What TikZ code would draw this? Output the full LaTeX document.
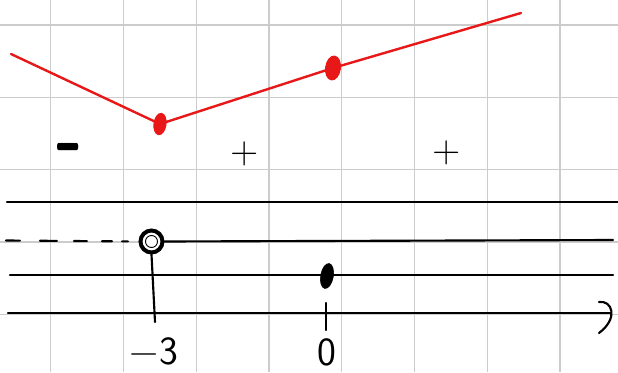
\documentclass[tikz,border=0pt]{standalone}
\usepackage{fontspec}
\usetikzlibrary{shapes.geometric}
\definecolor{myred}{RGB}{232,24,24}
\begin{document}
\begin{tikzpicture}[x=0.75pt,y=-0.75pt,
  gridline/.style={draw=black!20, line width=1pt},
  axisline/.style={draw=black, line width=1.6pt, line cap=round},
  redline/.style={draw=myred, line width=1.8pt, line cap=round, line join=round},
  reddot/.style={ellipse, fill=myred, draw=myred, line width=0.8pt, inner sep=0pt},
  blackdot/.style={ellipse, fill=black, draw=black, inner sep=0pt},
  opendot/.style={circle, draw=black, line width=3pt, fill=white, inner sep=0pt, minimum size=16.5pt},
  sign/.style={font=\sffamily\fontsize{29}{29}\selectfont, inner sep=0pt},
  lab/.style={font=\sffamily\fontsize{30}{30}\selectfont, inner sep=0pt}]
\useasboundingbox (0,0) rectangle (618,372);
\clip (0,0) rectangle (618,372);
\fill[white] (0,0) rectangle (618,372);
% grid
\foreach \i in {0,...,7} \draw[gridline] ({50.7+72.75*\i},0) -- ({50.7+72.75*\i},372);
\foreach \j in {0,...,4} \draw[gridline] (0,{25+72.3*\j}) -- (618,{25+72.3*\j});
% black lines
\coordinate (l1s) at (7,202);   \coordinate (l1e) at (618,202);
\coordinate (l2s) at (6,240.5); \coordinate (l2e) at (613,240);
\coordinate (l3s) at (10,275);  \coordinate (l3e) at (613,275);
\coordinate (axs) at (8,313);   \coordinate (axe) at (611,313);
\coordinate (arT) at (599,302); \coordinate (arB) at (599,333);
\coordinate (stemE) at (155,322);
\coordinate (tickT) at (326,303); \coordinate (tickB) at (326,330);
\draw[axisline] (l1s) -- (l1e);
\draw[axisline] (l3s) -- (l3e);
\draw[axisline] (axs) -- (axe);
\draw[axisline] (arT) .. controls (612,300) and (619,318) .. (arB);
\node[opendot] (circ) at (151.5,241.5) {};
\draw[axisline, dash pattern=on 10.5pt off 15pt on 12.75pt off 12.75pt on 9.75pt off 11.25pt on 7.5pt off 7.5pt on 4.5pt off 30pt] (l2s) -- (circ.west);
\draw[axisline] (circ.east) -- (l2e);
\draw[axisline] (circ.south) -- (stemE);
\draw[black, line width=0.7pt] (circ.center) circle (4.5pt);
\draw[axisline] (tickT) -- (tickB);
\node[blackdot, minimum width=9.5pt, minimum height=19pt, rotate=-10] (bdot) at (327,276) {};
% red graph
\coordinate (rs) at (11,54);
\coordinate (pmin) at (160,124);
\coordinate (pmid) at (333,68);
\coordinate (re) at (521,13);
\draw[redline] (rs) -- (pmin) -- (pmid) -- (re);
\node[reddot, minimum width=9pt, minimum height=16pt, rotate=-8] (rmin) at (pmin) {};
\node[reddot, minimum width=11pt, minimum height=18pt, rotate=-8] (rmid) at (pmid) {};
% signs
\node[sign] (s1) at (68,159) {\bfseries\scalebox{1}[2.6]{–}};
\node[sign] (s2) at (245,154) {+};
\node[sign] (s3) at (447,153) {+};
% labels
\node[lab] (n3) at (154,351) {−3};
\node[lab] (n0) at (327,352) {0};
\end{tikzpicture}
\end{document}
